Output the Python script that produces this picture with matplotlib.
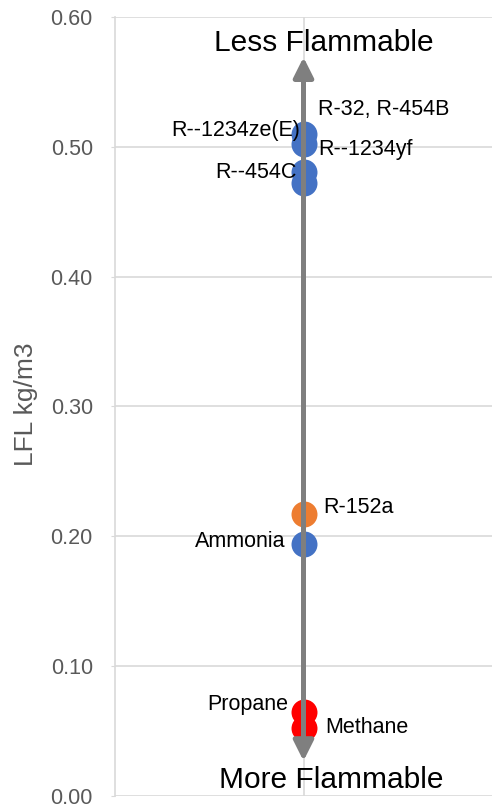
import matplotlib
matplotlib.use("Agg")
import matplotlib.pyplot as plt

plt.rcParams['font.family'] = ['Liberation Sans', 'DejaVu Sans']

# refrigerant LFL values
names = ['R-32, R-454B', 'R--1234ze(E)', 'R--1234yf', 'R--454C',
         'R-152a', 'Ammonia', 'Propane', 'Methane']
lfl = [0.510, 0.502, 0.481, 0.472, 0.217, 0.194, 0.065, 0.052]
colors = ['#4472C4', '#4472C4', '#4472C4', '#4472C4',
          '#ED7D31', '#4472C4', '#FF0000', '#FF0000']

yticks = [0.0, 0.1, 0.2, 0.3, 0.4, 0.5, 0.6]
ytick_labels = ['0.00', '0.10', '0.20', '0.30', '0.40', '0.50', '0.60']

# label offsets in pixels (dx, dy) and alignment
label_pos = [(15, 24, 'left'), (-3, 14, 'right'), (15, 22, 'left'), (-7, 11, 'right'),
             (20, 7, 'left'), (-18, 3, 'right'), (-15, 7, 'right'), (22, 1, 'left')]

fig = plt.figure(figsize=(4.92, 8.08), dpi=100)
ax = fig.add_axes([115/492, 12/808, 377/492, 779/808])

grid_col = '#D9D9D9'
text_col = '#595959'

for v, c in zip(lfl, colors):
    ax.plot(1, v, 'o', color=c, markersize=18.7, markeredgewidth=0, zorder=3)

for name, v, (dx, dy, ha) in zip(names, lfl, label_pos):
    ax.annotate(name, xy=(1, v), xytext=(dx, dy), textcoords='offset pixels',
                ha=ha, va='center', fontsize=15.5, color='black', zorder=5)

# double headed arrow
ax.annotate('', xy=(1, 0.569), xytext=(1, 0.027),
            arrowprops=dict(arrowstyle='<|-|>', color='#7F7F7F', lw=3.6,
                            mutation_scale=30, shrinkA=0, shrinkB=0),
            zorder=4)
ax.text(1.109, 0.580, 'Less Flammable', ha='center', va='center', fontsize=21.5, color='black')
ax.text(1.146, 0.0127, 'More Flammable', ha='center', va='center', fontsize=21.5, color='black')

ax.set_xlim(0, 2)
ax.set_ylim(0, 0.6)
ax.set_xticks([1])
ax.set_xticklabels([])
ax.set_yticks(yticks)
ax.set_yticklabels(ytick_labels)
ax.tick_params(axis='x', length=0)
ax.tick_params(axis='y', length=3, color=grid_col, labelsize=15.5, labelcolor=text_col, pad=13)
ax.grid(True, color=grid_col, lw=1.2, zorder=0)
ax.set_axisbelow(True)
for s in ['top', 'right', 'bottom']:
    ax.spines[s].set_visible(False)
ax.spines['left'].set_color(grid_col)
ax.spines['left'].set_linewidth(1.2)

ax.set_ylabel('LFL kg/m3', fontsize=19, color=text_col)
ax.yaxis.set_label_coords(-0.205, 0.503)

fig.savefig('out.png', dpi=100)
